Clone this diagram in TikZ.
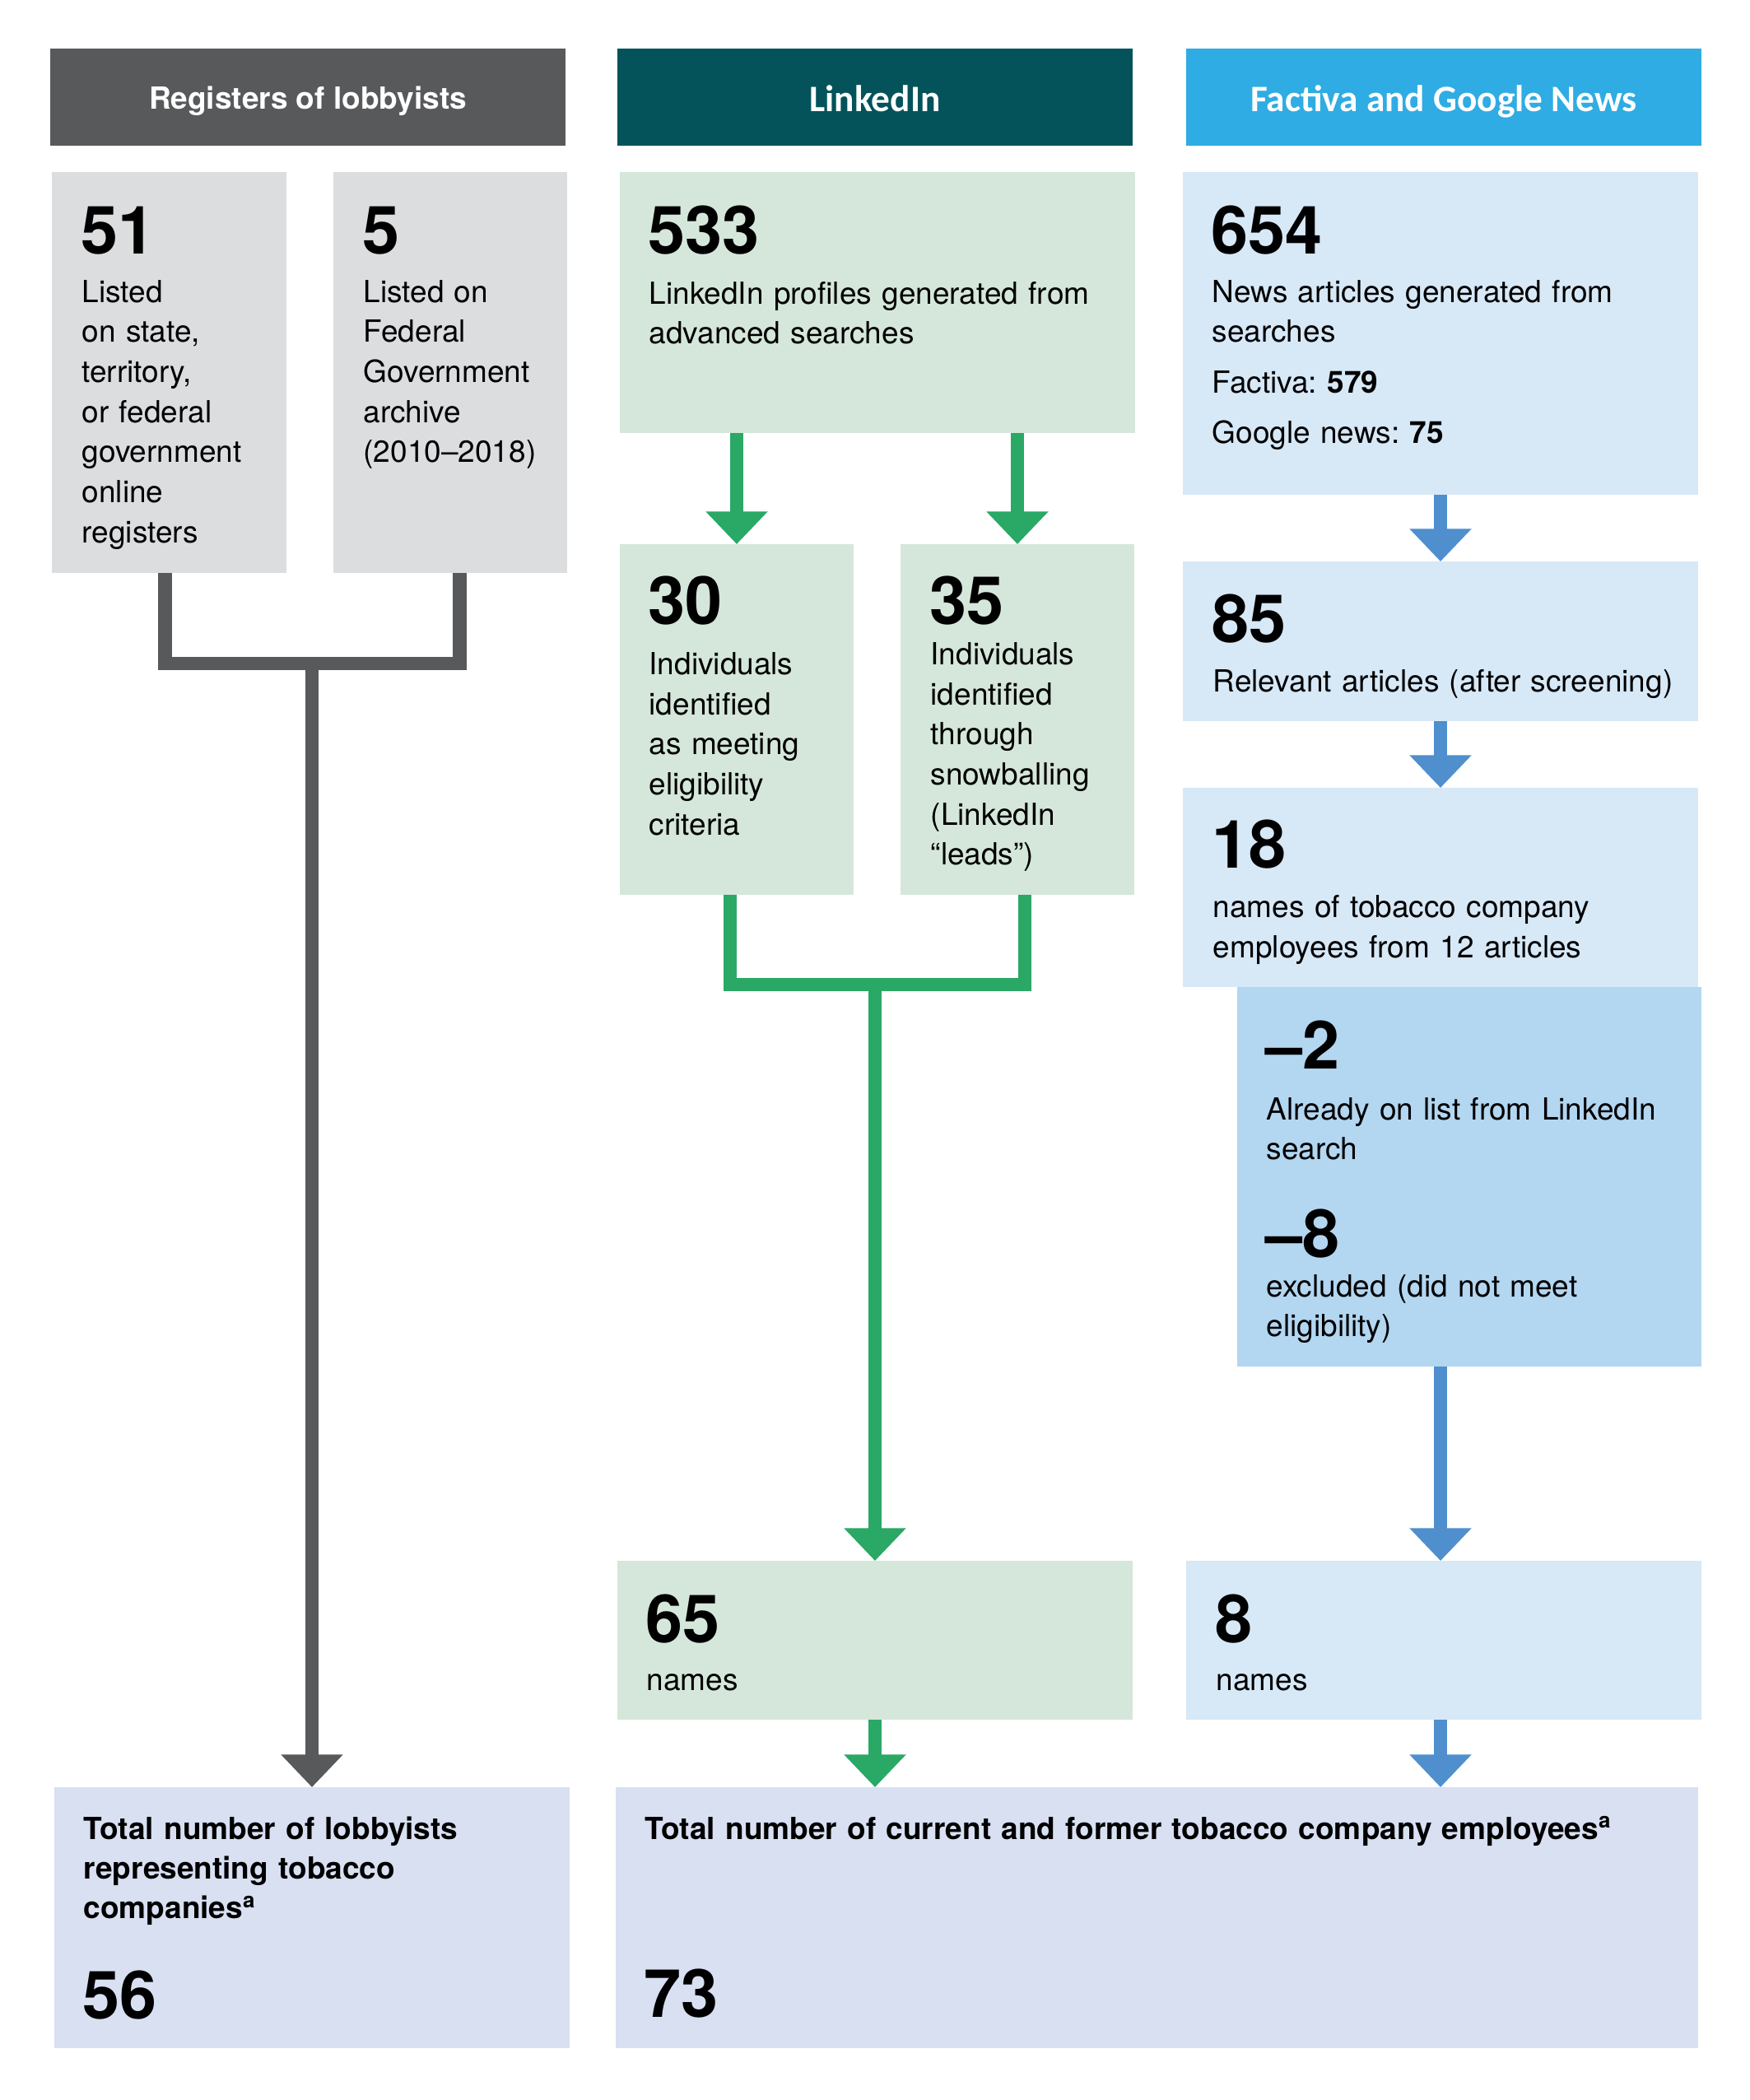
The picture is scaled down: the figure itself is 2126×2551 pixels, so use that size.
\documentclass[tikz,border=0pt]{standalone}
\usepackage{fontspec}
\setmainfont{TeX Gyre Heros}
\newfontfamily\carlito{Carlito}
\usetikzlibrary{arrows.meta,fit}
\definecolor{hdrgray}{HTML}{58595B}
\definecolor{hdrteal}{HTML}{04535A}
\definecolor{hdrcyan}{HTML}{2FACE3}
\definecolor{boxgray}{HTML}{DCDDDF}
\definecolor{boxgreen}{HTML}{D5E7DA}
\definecolor{boxblue}{HTML}{D7E8F7}
\definecolor{boxmid}{HTML}{B3D6F1}
\definecolor{boxtotal}{HTML}{D8E0F2}
\definecolor{arrgreen}{HTML}{2AA866}
\definecolor{arrblue}{HTML}{4F8FCE}
\frenchspacing

\begin{document}
\begin{tikzpicture}[x=0.3pt,y=-0.3pt,
		box/.style={inner sep=0pt, outer sep=0pt},
		num/.style={anchor=base west, inner sep=0pt, font=\fontsize{24.3}{24.3}\selectfont\bfseries},
		txt/.style={anchor=base west, inner sep=0pt, align=left, text width=400pt, font=\fontsize{11.1}{14.6}\selectfont},
		ttxt/.style={txt, font=\fontsize{11.1}{14.5}\selectfont\bfseries},
		htxt/.style={anchor=base, inner sep=0pt, text=white, font=\fontsize{11.1}{13}\selectfont\bfseries},
		ctxt/.style={anchor=base, inner sep=0pt, text=white, font=\fontsize{13.6}{15}\selectfont\carlito\bfseries},
		link/.style={line width=5pt},
		flow/.style={line width=4.8pt, -{Triangle[width=21.9pt,length=11.9pt]}}]
	\useasboundingbox (0,0) rectangle (2126,2551);

	% headers
	\node[box, fill=hdrgray, fit={(61,59) (687,177)}] (h1) {};
	\node[box, fill=hdrteal, fit={(750,59) (1376,177)}] (h2) {};
	\node[box, fill=hdrcyan, fit={(1441,59) (2067,177)}] (h3) {};
	\node[htxt] (h1t) at (374,132) {Registers of lobbyists};
	\node[ctxt] (h2t) at (1063,135) {LinkedIn};
	\node[ctxt] (h3t) at (1754,135) {Factiva and Google News};

	% registers
	\node[box, fill=boxgray, fit={(63,209) (348,696)}] (b51) {};
	\node[box, fill=boxgray, fit={(405,209) (689,696)}] (b5) {};
	\node[num] (n51) at (98,308) {51};
	\node[txt] (t51) at (99,367) {Listed\\on state,\\territory,\\or federal\\government\\online\\registers};
	\node[num] (n5) at (440,308) {5};
	\node[txt] (t5) at (441,367) {Listed on\\Federal\\Government\\archive\\(2010--2018)};

	% linkedin
	\node[box, fill=boxgreen, fit={(753,209) (1379,526)}] (b533) {};
	\node[box, fill=boxgreen, fit={(753,661) (1037,1087)}] (b30) {};
	\node[box, fill=boxgreen, fit={(1094,661) (1378,1087)}] (b35) {};
	\node[box, fill=boxgreen, fit={(750,1896) (1376,2089)}] (b65) {};
	\node[num] (n533) at (787,308) {533};
	\node[txt] (t533) at (788,369) {LinkedIn profiles generated from\\advanced searches};
	\node[num] (n30) at (787,758) {30};
	\node[txt] (t30) at (788,819.5) {Individuals\\identified\\as meeting\\eligibility\\criteria};
	\node[num] (n35) at (1129,758) {35};
	\node[txt] (t35) at (1130,807.5) {Individuals\\identified\\through\\snowballing\\(LinkedIn\\“leads”)};
	\node[num] (n65) at (784,1995) {65};
	\node[txt] (t65) at (785,2053.6) {names};

	% factiva and google news
	\node[box, fill=boxblue, fit={(1437,209) (2063,601)}] (b654) {};
	\node[box, fill=boxblue, fit={(1437,682) (2063,876)}] (b85) {};
	\node[box, fill=boxblue, fit={(1437,957) (2063,1199)}] (b18) {};
	\node[box, fill=boxmid, fit={(1503,1199) (2067,1660)}] (bminus) {};
	\node[box, fill=boxblue, fit={(1441,1896) (2067,2089)}] (b8) {};
	\node[num] (n654) at (1471,308) {654};
	\node[txt] (t654) at (1472,367) {News articles generated from\\searches\\[3.8pt]Factiva: \textbf{579}\\[3.8pt]Google news: \textbf{75}};
	\node[num] (n85) at (1472,780) {85};
	\node[txt] (t85) at (1473,840) {Relevant articles (after screening)};
	\node[num] (n18) at (1472,1054.4) {18};
	\node[txt] (t18) at (1473,1114.6) {names of tobacco company\\employees from 12 articles};
	\node[num] (n2) at (1537,1298) {–2};
	\node[txt] (t2) at (1538,1360) {Already on list from LinkedIn\\search};
	\node[num] (n8x) at (1537,1527) {–8};
	\node[txt] (t8x) at (1538,1575) {excluded (did not meet\\eligibility)};
	\node[num] (n8) at (1476,1995) {8};
	\node[txt] (t8) at (1477,2053.6) {names};

	% totals
	\node[box, fill=boxtotal, fit={(66,2171) (692,2488)}] (tot1) {};
	\node[box, fill=boxtotal, fit={(748,2171) (2063,2488)}] (tot2) {};
	\node[ttxt] (tt1) at (101,2234) {Total number of lobbyists\\representing tobacco\\companies\textsuperscript{a}};
	\node[num] (n56) at (100,2452) {56};
	\node[ttxt] (tt2) at (783,2234) {Total number of current and former tobacco company employees\textsuperscript{a}};
	\node[num] (n73) at (782,2450) {73};

	% connectors
	\coordinate (gj) at (379,806);
	\coordinate (lj) at (1063,1196);
	\draw[link, hdrgray] ([xshift=-1.5pt]b51.south) |- (gj) -| ([xshift=3.5pt]b5.south);
	\draw[flow, hdrgray] (gj) -- (tot1.north);
	\draw[flow, arrgreen] (b533.south -| b30.north) -- (b30.north);
	\draw[flow, arrgreen] (b533.south -| b35.north) -- (b35.north);
	\draw[link, arrgreen] ([xshift=-2.4pt]b30.south) |- (lj) -| ([xshift=2.7pt]b35.south);
	\draw[flow, arrgreen] (lj) -- (b65.north);
	\draw[flow, arrgreen] (b65.south) -- (tot2.north -| b65.south);
	\draw[flow, arrblue] (b654.south) -- (b85.north);
	\draw[flow, arrblue] (b85.south) -- (b18.north);
	\draw[flow, arrblue] (bminus.south -| b18.south) -- (b8.north -| b18.south);
	\draw[flow, arrblue] (b8.south -| b18.south) -- (tot2.north -| b18.south);
\end{tikzpicture}
\end{document}
